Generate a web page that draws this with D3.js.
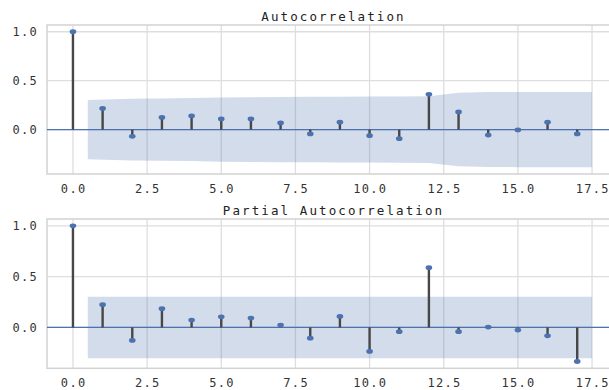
<!DOCTYPE html>
<html>
<head>
<meta charset="utf-8">
<script src="https://cdn.jsdelivr.net/npm/d3@7"></script>
<style>
  html, body { margin: 0; padding: 0; background: #fff; }
  svg { display: block; }
</style>
</head>
<body>
<svg id="chart" width="609" height="390"></svg>
<script>
// ---- data ----
const lags = [0, 1, 2, 3, 4, 5, 6, 7, 8, 9, 10, 11, 12, 13, 14, 15, 16, 17];
const acfValues = [1.0, 0.216, -0.069, 0.124, 0.140, 0.109, 0.109, 0.068, -0.045, 0.075, -0.062, -0.093, 0.360, 0.180, -0.056, -0.004, 0.075, -0.045];
const acfBand = [0.303, 0.316, 0.318, 0.322, 0.328, 0.331, 0.334, 0.335, 0.336, 0.337, 0.338, 0.341, 0.376, 0.383, 0.384, 0.384, 0.385]; // lags 1..17
const pacfValues = [1.0, 0.224, -0.128, 0.184, 0.073, 0.105, 0.092, 0.023, -0.105, 0.108, -0.236, -0.042, 0.588, -0.042, 0.004, -0.026, -0.082, -0.335];
const pacfBand = [0.303, 0.303, 0.303, 0.303, 0.303, 0.303, 0.303, 0.303, 0.303, 0.303, 0.303, 0.303, 0.303, 0.303, 0.303, 0.303, 0.303]; // lags 1..17
const titles = ["Autocorrelation", "Partial Autocorrelation"];
const xTicks = [0, 2.5, 5, 7.5, 10, 12.5, 15, 17.5];
const yTicks = [0, 0.5, 1.0];

// ---- style ----
const blue = "#4c72b0";
const gridColor = "#dedede";
const frameColor = "#d2d2d2";
const font = "'DejaVu Sans Mono', 'Liberation Mono', monospace";

const svg = d3.select("#chart");

const panels = [
  { title: titles[0], values: acfValues, band: acfBand, top: 25, bottom: 174 },
  { title: titles[1], values: pacfValues, band: pacfBand, top: 219, bottom: 368.3 }
];

const x = d3.scaleLinear().domain([-0.875, 18.375]).range([47, 618]);

function fmt(v) { return d3.format(".1f")(v); }

panels.forEach((p, pi) => {
  const clipId = "clip" + pi;
  const lows = p.values.concat(p.band.map(b => -b));
  const highs = p.values.concat(p.band);
  const lo = d3.min(lows), hi = d3.max(highs);
  const m = (hi - lo) * 0.05;
  const y = d3.scaleLinear().domain([lo - m, hi + m]).range([p.bottom, p.top]);

  const g = svg.append("g");
  svg.append("clipPath").attr("id", clipId).append("rect")
    .attr("x", 47).attr("y", p.top).attr("width", 571).attr("height", p.bottom - p.top);

  g.append("rect").attr("x", 47).attr("y", p.top).attr("width", 571).attr("height", p.bottom - p.top)
    .attr("fill", "#fff");

  // grid
  g.selectAll(".vg").data(xTicks).enter().append("line")
    .attr("x1", d => x(d)).attr("x2", d => x(d)).attr("y1", p.top).attr("y2", p.bottom)
    .attr("stroke", gridColor).attr("stroke-width", 1.3);
  g.selectAll(".hg").data(yTicks).enter().append("line")
    .attr("x1", 47).attr("x2", 618).attr("y1", d => y(d)).attr("y2", d => y(d))
    .attr("stroke", gridColor).attr("stroke-width", 1.3);

  // frame
  g.append("rect").attr("x", 47).attr("y", p.top).attr("width", 571).attr("height", p.bottom - p.top)
    .attr("fill", "none").attr("stroke", frameColor).attr("stroke-width", 1.5);

  // confidence band
  const bandPts = p.band.map((b, i) => {
    let lx = lags[i + 1];
    if (i === 0) lx -= 0.5;
    if (i === p.band.length - 1) lx += 0.5;
    return { x: lx, b: b };
  });
  const area = d3.area().x(d => x(d.x)).y0(d => y(-d.b)).y1(d => y(d.b));
  g.append("path").datum(bandPts).attr("d", area)
    .attr("fill", blue).attr("fill-opacity", 0.25).attr("clip-path", `url(#${clipId})`);

  // zero line
  g.append("line").attr("x1", 47).attr("x2", 618).attr("y1", y(0)).attr("y2", y(0))
    .attr("stroke", blue).attr("stroke-width", 1.3);

  // stems
  g.selectAll(".stem").data(lags).enter().append("line")
    .attr("x1", d => x(d)).attr("x2", d => x(d))
    .attr("y1", y(0)).attr("y2", (d, i) => y(p.values[i]))
    .attr("stroke", "#474747").attr("stroke-width", 2.4);

  // markers
  g.selectAll(".mk").data(lags).enter().append("ellipse")
    .attr("cx", d => x(d)).attr("cy", (d, i) => y(p.values[i]))
    .attr("rx", 3.3).attr("ry", 2.4).attr("fill", blue);

  // title
  g.append("text").attr("x", (47 + 618) / 2 + 1).attr("y", p.top - 3.8)
    .attr("text-anchor", "middle").attr("font-family", font).attr("font-size", 12.5)
    .attr("letter-spacing", "2.1px").attr("fill", "#222").text(p.title);

  // y tick labels
  g.selectAll(".yl").data(yTicks).enter().append("text")
    .attr("x", 38).attr("y", d => y(d) + 4.6)
    .attr("text-anchor", "end").attr("font-family", font).attr("font-size", 12)
    .attr("letter-spacing", "1.3px").attr("fill", "#333").text(fmt);

  // x tick labels
  g.selectAll(".xl").data(xTicks).enter().append("text")
    .attr("x", d => x(d) + 0.7).attr("y", p.bottom + 18.5)
    .attr("text-anchor", "middle").attr("font-family", font).attr("font-size", 12)
    .attr("letter-spacing", "1.3px").attr("fill", "#333").text(fmt);
});
</script>
</body>
</html>
